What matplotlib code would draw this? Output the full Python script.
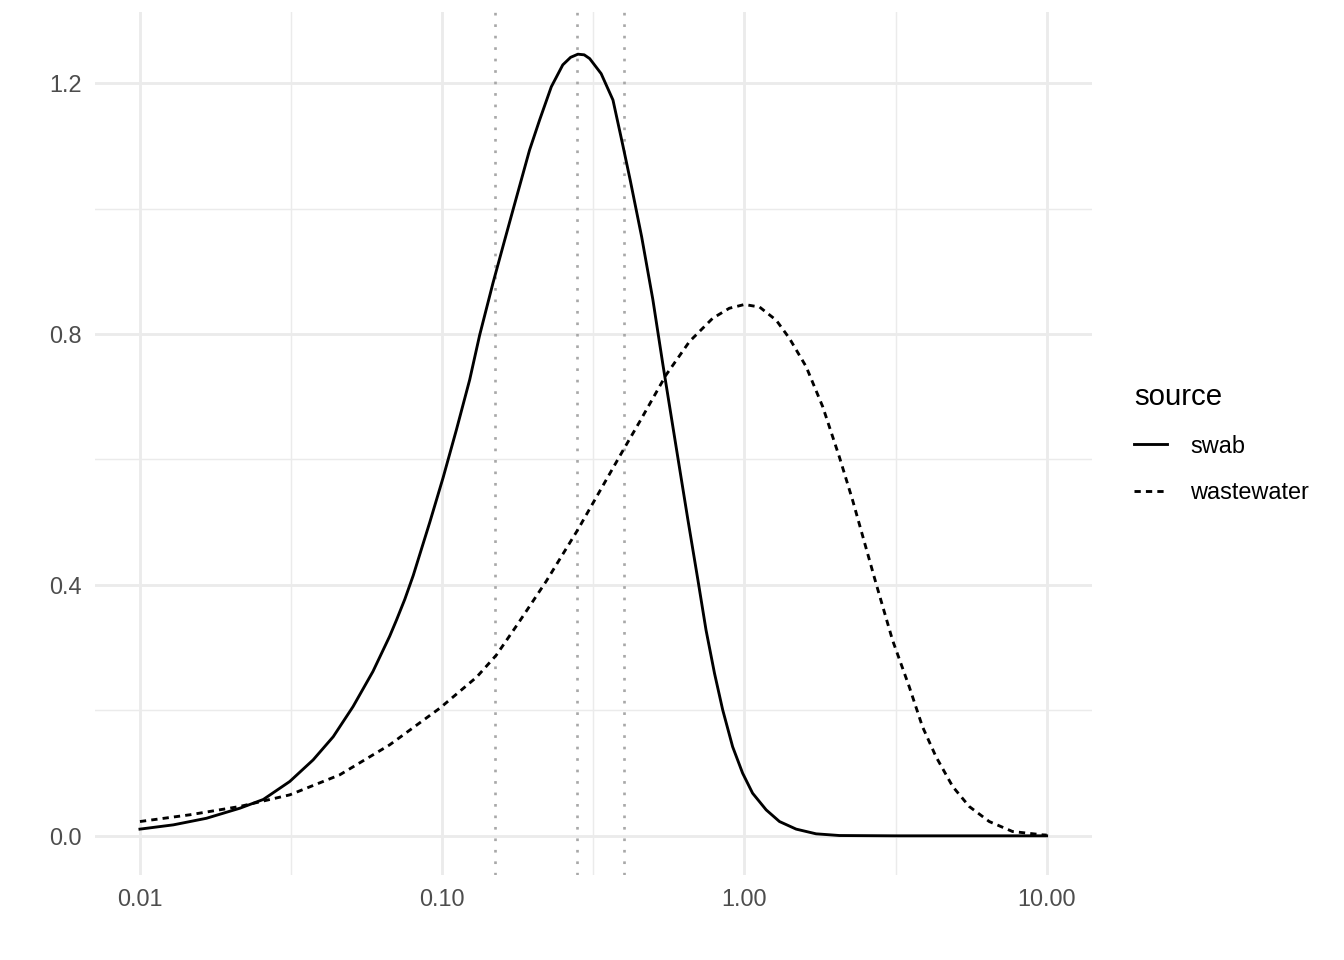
import numpy as np
import matplotlib.pyplot as plt
from matplotlib.lines import Line2D
from matplotlib.ticker import FixedLocator, NullFormatter

plt.rcParams['font.family'] = ['Liberation Sans', 'DejaVu Sans']

# curves (x on log scale)
swab_x = [0.0100, 0.0129, 0.0166, 0.0214, 0.0256, 0.0313, 0.0374, 0.0436, 0.0507, 0.0590,
          0.0670, 0.0706, 0.0752, 0.0802, 0.0910, 0.1007, 0.1114, 0.1233, 0.1330, 0.1472,
          0.160, 0.172, 0.1945, 0.210, 0.2296, 0.2506, 0.266, 0.2812, 0.295, 0.3076,
          0.3357, 0.3673, 0.3963, 0.419, 0.457, 0.4977, 0.537, 0.5943, 0.650, 0.7015,
          0.7464, 0.7962, 0.8472, 0.9141, 0.9863, 1.064, 1.180, 1.306, 1.483, 1.726,
          2.061, 3.16, 10.0]
swab_y = [0.0107, 0.0175, 0.028, 0.044, 0.058, 0.0866, 0.121, 0.158, 0.206, 0.262,
          0.318, 0.344, 0.377, 0.415, 0.500, 0.571, 0.647, 0.727, 0.798, 0.881,
          0.945, 1.000, 1.093, 1.141, 1.194, 1.229, 1.241, 1.246, 1.245, 1.239,
          1.215, 1.173, 1.100, 1.045, 0.955, 0.855, 0.752, 0.620, 0.504, 0.408,
          0.328, 0.259, 0.201, 0.142, 0.0999, 0.068, 0.0414, 0.0228, 0.0107, 0.0032,
          0.0005, 0.0, 0.0]

waste_x = [0.0100, 0.0146, 0.0214, 0.0313, 0.0458, 0.0670, 0.0982, 0.130, 0.151, 0.178,
           0.221, 0.281, 0.395, 0.450, 0.551, 0.658, 0.785, 0.891, 1.000, 1.122,
           1.274, 1.409, 1.600, 1.816, 2.061, 2.280, 2.723, 3.090, 3.508, 3.882,
           4.305, 4.887, 5.546, 6.457, 7.709, 9.683, 10.0]
waste_y = [0.0228, 0.0335, 0.0468, 0.0653, 0.0972, 0.145, 0.2035, 0.253, 0.288, 0.338,
           0.406, 0.488, 0.613, 0.660, 0.735, 0.788, 0.825, 0.841, 0.847, 0.843,
           0.822, 0.793, 0.748, 0.684, 0.604, 0.535, 0.403, 0.312, 0.238, 0.174,
           0.126, 0.0786, 0.0467, 0.0228, 0.0069, 0.0016, 0.0012]

vlines = [0.15, 0.28, 0.40]

x_breaks = [0.01, 0.1, 1, 10]
x_labels = ['0.01', '0.10', '1.00', '10.00']
x_minor = [10 ** -1.5, 10 ** -0.5, 10 ** 0.5]
y_breaks = [0.0, 0.4, 0.8, 1.2]
y_labels = ['0.0', '0.4', '0.8', '1.2']
y_minor = [0.2, 0.6, 1.0]

fig = plt.figure(figsize=(7, 5), dpi=192)
ax = fig.add_axes([0.0704, 0.0885, 0.7421, 0.8985])

grid_col = '#EBEBEB'
for v in x_minor:
    ax.axvline(v, color=grid_col, lw=0.55, zorder=0)
for v in y_minor:
    ax.axhline(v, color=grid_col, lw=0.55, zorder=0)
for v in x_breaks:
    ax.axvline(v, color=grid_col, lw=1.07, zorder=0)
for v in y_breaks:
    ax.axhline(v, color=grid_col, lw=1.07, zorder=0)

for v in vlines:
    ax.axvline(v, color='#A8A8A8', lw=1.0, linestyle=(0, (1, 3.3)), zorder=1)

ax.plot(swab_x, swab_y, color='black', lw=1.07, solid_joinstyle='round', zorder=3)
ax.plot(waste_x, waste_y, color='black', lw=1.07, linestyle=(0, (2.2, 1.8)), zorder=3)

ax.set_xscale('log')
lo, hi = np.log10(0.01), np.log10(10)
pad = (hi - lo) * 0.05
ax.set_xlim(10 ** (lo - pad), 10 ** (hi + pad))
ax.set_ylim(-0.0625, 1.3125)

ax.xaxis.set_major_locator(FixedLocator(x_breaks))
ax.set_xticklabels(x_labels)
ax.xaxis.set_minor_locator(FixedLocator([]))
ax.xaxis.set_minor_formatter(NullFormatter())
ax.set_yticks(y_breaks)
ax.set_yticklabels(y_labels)
ax.tick_params(axis='both', length=0, labelsize=8.8, labelcolor='#4D4D4D')
ax.tick_params(axis='x', pad=5)
ax.tick_params(axis='y', pad=5)
for s in ax.spines.values():
    s.set_visible(False)

handles = [Line2D([], [], color='black', lw=1.07),
           Line2D([], [], color='black', lw=1.07, linestyle=(0, (2.2, 1.8)))]
leg = fig.legend(handles, ['swab', 'wastewater'], title='source',
                 loc='center left', bbox_to_anchor=(0.828, 0.538),
                 frameon=False, fontsize=8.8, title_fontsize=11,
                 handlelength=1.4, handletextpad=1.0, labelspacing=1.0)
leg._legend_box.align = 'left'

fig.savefig('out.png', dpi=192)
